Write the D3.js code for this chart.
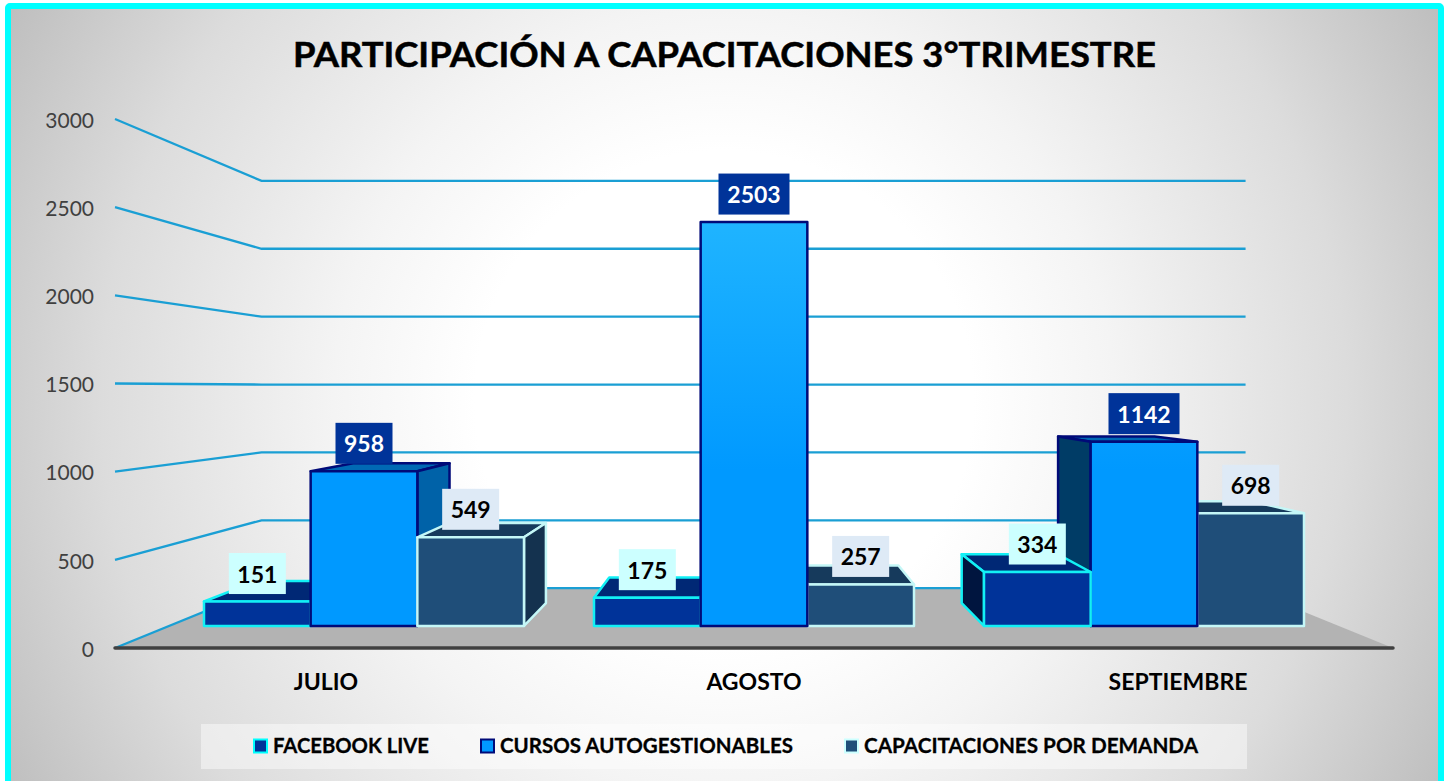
<!DOCTYPE html>
<html><head><meta charset="utf-8">
<script src="https://cdn.jsdelivr.net/npm/d3@7/dist/d3.min.js"></script>
<style>html,body{margin:0;padding:0;background:#fff;overflow:hidden}svg{display:block}text{font-family:Lato,"Open Sans",sans-serif}</style>
</head><body><div id="chart"></div>
<script>
const titleText = "PARTICIPACIÓN A CAPACITACIONES 3°TRIMESTRE";
const categories = ["JULIO", "AGOSTO", "SEPTIEMBRE"];
const seriesNames = ["FACEBOOK LIVE", "CURSOS AUTOGESTIONABLES", "CAPACITACIONES POR DEMANDA"];
const facebookLive = [151, 175, 334];
const cursosAutogestionables = [958, 2503, 1142];
const capacitacionesPorDemanda = [549, 257, 698];
const yTicks = [0, 500, 1000, 1500, 2000, 2500, 3000];
const categoryLabelShift = [-38, 0, 34];
const legendTextX = [273, 500, 864];
const legendTextWidth = [156, 293, 334];

const W = 1445, H = 781;
const seriesValues = [facebookLive, cursosAutogestionables, capacitacionesPorDemanda];
const styles = [
  {front:"#003399", top:"#002875", sideR:"#00205f", sideL:"#00153f", stroke:"#12f0f5", key:"#00ffff", label:"#ccffff", ink:"#000"},
  {front:"url(#blueFace)", top:"#0069b4", sideR:"#0062a8", sideL:"#003c66", stroke:"#000a78", key:"#000a78", label:"#003399", ink:"#fff"},
  {front:"#1f4e79", top:"#163a5c", sideR:"#14324f", sideL:"#14324f", stroke:"#c4f7f7", key:"#ccffff", label:"#deeaf6", ink:"#000"}
];

// perspective: depth scale about the vanishing point
const vp = [752, 388];
const depthFront = 0.915, depthBack = 0.827, depthWall = 0.77;
const yWorld = d3.scaleLinear().domain([0, 3000]).range([648, 119]);
const xLeft = 115, xRight = 1393;
const project = (xw, v, s) => [vp[0] + (xw - vp[0]) * s, vp[1] + (yWorld(v) - vp[1]) * s];
const unprojectX = x => vp[0] + (x - vp[0]) / depthFront;

const band = d3.scaleBand().domain(categories).range([169, 1339]);
const inner = d3.scaleBand().domain(d3.range(3)).range([0, 320]);
const frontX = (c, i) => band(categories[c]) + 35 + inner(i);
const barW = inner.bandwidth();

const svg = d3.select("#chart").append("svg").attr("width", W).attr("height", H);
const defs = svg.append("defs");
const bg = defs.append("radialGradient").attr("id", "bg").attr("gradientUnits", "userSpaceOnUse")
  .attr("cx", 724).attr("cy", 400).attr("r", 830);
[[0.3, "#ffffff"], [0.47, "#f4f4f4"], [0.75, "#dcdcdc"], [1, "#bcbcbc"]].forEach(s => bg.append("stop").attr("offset", s[0]).attr("stop-color", s[1]));
const bf = defs.append("linearGradient").attr("id", "blueFace").attr("gradientUnits", "userSpaceOnUse").attr("x1", 0).attr("x2", 0).attr("y1", 222).attr("y2", 470);
[[0, "#1fb4ff"], [1, "#0099ff"]].forEach(s => bf.append("stop").attr("offset", s[0]).attr("stop-color", s[1]));

// frame
svg.append("rect").attr("x", 8).attr("y", 6).attr("width", 1433).attr("height", 790).attr("rx", 2)
  .attr("fill", "url(#bg)").attr("stroke", "#00ffff").attr("stroke-width", 6);

svg.append("text").attr("x", 724.5).attr("y", 67).attr("text-anchor", "middle")
  .attr("font-size", 35).attr("font-weight", 700).attr("fill", "#000").attr("stroke", "#000").attr("stroke-width", 0.5)
  .attr("textLength", 863).attr("lengthAdjust", "spacingAndGlyphs").text(titleText);

const line = d3.line();
// floor
svg.append("path").attr("fill", "#b3b3b3")
  .attr("d", line([project(xLeft, 0, 1), project(xRight, 0, 1), project(xRight, 0, depthWall), project(xLeft, 0, depthWall)]) + "Z");
// gridlines
svg.append("g").selectAll("path").data(yTicks).join("path")
  .attr("fill", "none").attr("stroke", "#1a9fd4").attr("stroke-width", 2.3)
  .attr("d", v => line([project(xLeft, v, 1), project(xLeft, v, depthWall), project(xRight, v, depthWall)]));
// base line
svg.append("path").attr("stroke", "#404040").attr("stroke-width", 3.5).attr("stroke-linecap", "round")
  .attr("d", line([[xLeft, yWorld(0)], [xRight, yWorld(0)]]));

// y axis
const axis = svg.append("g").attr("transform", "translate(94,1.5)")
  .call(d3.axisLeft(yWorld).tickValues(yTicks).tickSize(0).tickPadding(0).tickFormat(d3.format("d")));
axis.select(".domain").remove();
axis.selectAll("text").attr("font-size", 21).attr("fill", "#404040").style("font-family", "Lato");

// bars
const bars = [];
categories.forEach((cat, c) => seriesValues.forEach((vals, i) => {
  const x0 = frontX(c, i), x1 = x0 + barW;
  bars.push({c, i, v: vals[c], x0, x1, dist: Math.abs((x0 + x1) / 2 - vp[0])});
}));
const gBars = svg.append("g");
bars.slice().sort((a, b) => b.dist - a.dist).forEach(b => {
  const st = styles[b.i];
  const xa = unprojectX(b.x0), xb = unprojectX(b.x1);
  const P = (x, v, s) => project(x, v, s);
  const g = gBars.append("g").attr("stroke", st.stroke).attr("stroke-width", 2.5).attr("stroke-linejoin", "round");
  const fTop = P(xa, b.v, depthFront);
  if (fTop[1] > vp[1]) {
    g.append("path").attr("fill", st.top)
      .attr("d", line([P(xa, b.v, depthFront), P(xb, b.v, depthFront), P(xb, b.v, depthBack), P(xa, b.v, depthBack)]) + "Z");
  }
  if (b.x1 < vp[0]) {
    g.append("path").attr("fill", st.sideR)
      .attr("d", line([P(xb, 0, depthFront), P(xb, b.v, depthFront), P(xb, b.v, depthBack), P(xb, 0, depthBack)]) + "Z");
  }
  if (b.x0 > vp[0]) {
    g.append("path").attr("fill", st.sideL)
      .attr("d", line([P(xa, 0, depthFront), P(xa, b.v, depthFront), P(xa, b.v, depthBack), P(xa, 0, depthBack)]) + "Z");
  }
  g.append("path").attr("fill", st.front)
    .attr("d", line([P(xa, 0, depthFront), P(xb, 0, depthFront), P(xb, b.v, depthFront), P(xa, b.v, depthFront)]) + "Z");
});

// data labels
const gLab = svg.append("g");
bars.forEach(b => {
  const st = styles[b.i];
  const top = project(vp[0], b.v, depthFront)[1];
  const cx = (b.x0 + b.x1) / 2, cy = top - 28;
  const w = String(b.v).length > 3 ? 71 : 57;
  gLab.append("rect").attr("x", cx - w / 2).attr("y", cy - 20.5).attr("width", w).attr("height", 41).attr("fill", st.label);
  gLab.append("text").attr("x", cx).attr("y", cy + 9).attr("text-anchor", "middle")
    .attr("font-size", 23).attr("font-weight", 700).attr("fill", st.ink).text(b.v);
});

// category labels
svg.append("g").selectAll("text").data(categories).join("text")
  .attr("x", (d, i) => band(d) + band.bandwidth() / 2 + categoryLabelShift[i]).attr("y", 690)
  .attr("text-anchor", "middle").attr("font-size", 23).attr("font-weight", 700).attr("fill", "#000").text(d => d);

// legend
svg.append("rect").attr("x", 201).attr("y", 724).attr("width", 1046).attr("height", 45)
  .attr("fill", "#fff").attr("fill-opacity", 0.45);
const leg = svg.append("g").selectAll("g").data(seriesNames).join("g");
leg.append("rect").attr("x", (d, i) => legendTextX[i] - 19).attr("y", 739.5).attr("width", 13).attr("height", 13)
  .attr("fill", (d, i) => i === 1 ? "#0099ff" : styles[i].front)
  .attr("stroke", (d, i) => styles[i].key).attr("stroke-width", 2);
leg.append("text").attr("x", (d, i) => legendTextX[i]).attr("y", 753)
  .attr("font-size", 20.5).attr("font-weight", 700).attr("fill", "#000").attr("stroke", "#000").attr("stroke-width", 0.3)
  .attr("textLength", (d, i) => legendTextWidth[i]).attr("lengthAdjust", "spacingAndGlyphs").text(d => d);
</script></body></html>
